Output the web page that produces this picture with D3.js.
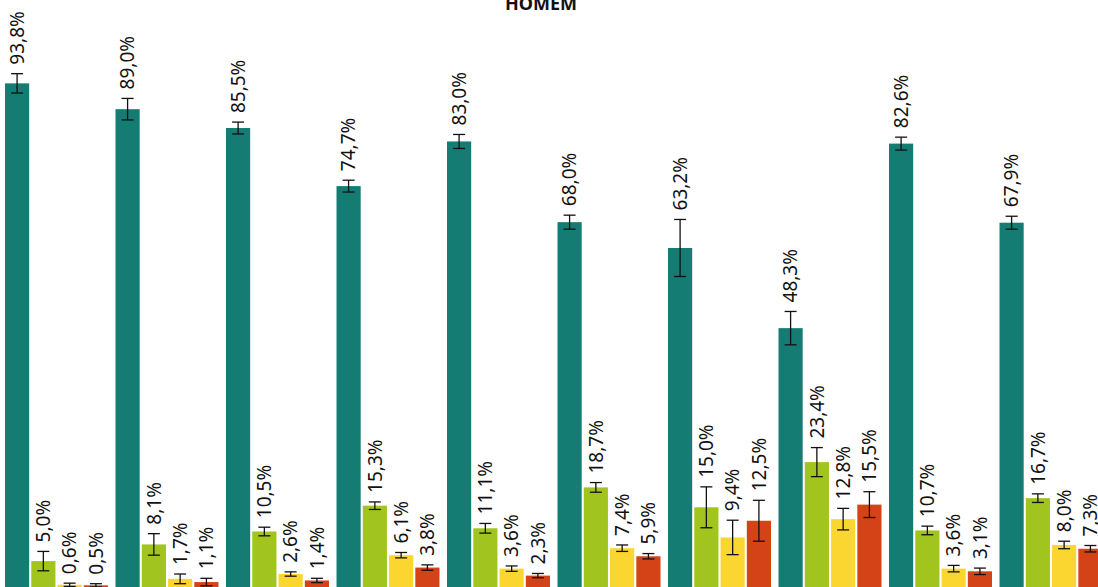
<!DOCTYPE html>
<html lang="pt">
  <head>
    <meta charset="UTF-8">
    <title>HOMEM</title>
    <style>
      body { margin: 0; background: #fff; }
      .label { font-family: "Noto Sans", sans-serif; font-size: 19px; fill: #111; }
      .title { font-family: "Noto Sans", sans-serif; font-size: 18px; font-weight: bold; fill: #111; }
      .err { stroke: #111; stroke-width: 1.3; }
    </style>
  </head>
  <body>
    <svg id="chart"></svg>

    <script src="https://cdn.jsdelivr.net/npm/d3@7"></script>
    <script>
      var groups = ["g1", "g2", "g3", "g4", "g5", "g6", "g7", "g8", "g9", "g10"];
      var series = ["s1", "s2", "s3", "s4"];
      var colors = ["#147c73", "#a2c41f", "#fcd630", "#d44317"];

      var s1 = [93.8, 89.0, 85.5, 74.7, 83.0, 68.0, 63.2, 48.3, 82.6, 67.9];
      var s2 = [5.0, 8.1, 10.5, 15.3, 11.1, 18.7, 15.0, 23.4, 10.7, 16.7];
      var s3 = [0.6, 1.7, 2.6, 6.1, 3.6, 7.4, 9.4, 12.8, 3.6, 8.0];
      var s4 = [0.5, 1.1, 1.4, 3.8, 2.3, 5.9, 12.5, 15.5, 3.1, 7.3];

      // error margins (+/-), percentage points
      var e1 = [1.8, 2.0, 1.1, 1.1, 1.3, 1.3, 5.3, 3.1, 1.2, 1.2];
      var e2 = [1.8, 2.0, 0.8, 0.7, 0.9, 0.9, 3.8, 2.7, 0.8, 0.8];
      var e3 = [0.3, 0.9, 0.4, 0.5, 0.5, 0.6, 3.2, 2.0, 0.6, 0.7];
      var e4 = [0.3, 0.7, 0.4, 0.5, 0.4, 0.5, 3.8, 2.4, 0.6, 0.6];

      var values = [s1, s2, s3, s4];
      var errors = [e1, e2, e3, e4];

      var width = 1098, height = 587;

      var svg = d3.select("#chart")
          .attr("width", width)
          .attr("height", height);

      var x0 = d3.scaleBand()
          .domain(groups)
          .range([5, 1102.5])
          .paddingInner(0.068)
          .paddingOuter(0);

      var x1 = d3.scaleBand()
          .domain(series)
          .range([0, x0.bandwidth()])
          .paddingInner(0.08);

      var y = d3.scaleLinear()
          .domain([0, 100])
          .range([588, 50]);

      var data = [];
      groups.forEach(function(g, i) {
        series.forEach(function(s, j) {
          data.push({ group: g, key: s, idx: j, value: values[j][i], err: errors[j][i] });
        });
      });

      var node = svg.selectAll(".bar")
        .data(data)
        .enter()
        .append("g")
        .attr("transform", function(d) { return "translate(" + (x0(d.group) + x1(d.key)) + ",0)"; });

      node.append("rect")
          .attr("x", 0)
          .attr("y", function(d) { return y(d.value); })
          .attr("width", x1.bandwidth())
          .attr("height", function(d) { return y(0) - y(d.value); })
          .attr("fill", function(d) { return colors[d.idx]; });

      var cx = x1.bandwidth() / 2;

      node.append("line")
          .attr("class", "err")
          .attr("x1", cx).attr("x2", cx)
          .attr("y1", function(d) { return y(d.value + d.err); })
          .attr("y2", function(d) { return y(d.value - d.err); });

      node.append("line")
          .attr("class", "err")
          .attr("x1", cx - 6).attr("x2", cx + 6)
          .attr("y1", function(d) { return y(d.value + d.err); })
          .attr("y2", function(d) { return y(d.value + d.err); });

      node.append("line")
          .attr("class", "err")
          .attr("x1", cx - 6).attr("x2", cx + 6)
          .attr("y1", function(d) { return y(d.value - d.err); })
          .attr("y2", function(d) { return y(d.value - d.err); });

      node.append("text")
          .attr("class", "label")
          .attr("transform", function(d) {
            return "translate(" + cx + "," + (y(d.value + d.err) - 9) + ") rotate(-90)";
          })
          .attr("dy", "0.35em")
          .text(function(d) { return d3.format(".1f")(d.value).replace(".", ",") + "%"; });

      svg.append("text")
          .attr("class", "title")
          .attr("x", 541)
          .attr("y", 10)
          .attr("text-anchor", "middle")
          .text("HOMEM");
    </script>
  </body>
</html>
